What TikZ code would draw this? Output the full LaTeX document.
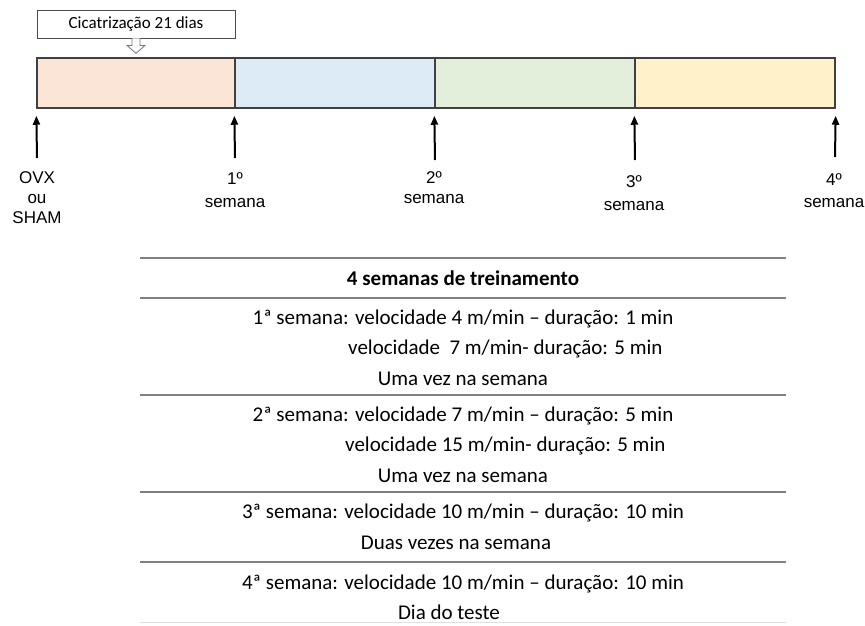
\documentclass[tikz,border=0pt]{standalone}
\usepackage{fontspec}
\setmainfont{Carlito}
\newfontfamily\arialfont{Liberation Sans}
\usetikzlibrary{arrows.meta,positioning}

\definecolor{fasepeach}{HTML}{FBE5D6}
\definecolor{faseblue}{HTML}{DDEBF6}
\definecolor{fasegreen}{HTML}{E3EFDA}
\definecolor{faseyellow}{HTML}{FFF1C9}

\begin{document}
\begin{tikzpicture}[x=1pt, y=-1pt,
  fase/.style={draw=black!75, line width=1.5pt, fill=#1,
               minimum width=200pt, minimum height=50pt, inner sep=0pt},
  marco/.style={-{Triangle[length=9pt,width=7pt]}, line width=2pt, shorten >=7pt},
  rotulo/.style={font=\arialfont\fontsize{17}{#1}\selectfont, align=center, inner sep=0pt},
  linha/.style={font=\fontsize{21}{25}\selectfont, inner sep=0pt, anchor=base},
  regra/.style={draw=black!50, line width=1.6pt}
]
\useasboundingbox (0,0) rectangle (865,625);

%% Cicatrization box and hollow arrow
\node[draw=black!70, line width=0.8pt, minimum width=198pt, minimum height=28pt,
      inner sep=0pt, font=\fontsize{17}{20}\selectfont] (cic) at (136,24) {Cicatrização 21 dias};
\draw[draw=black!55, fill=white, line width=0.8pt]
  ([xshift=-4pt]cic.south) -- ++(0,7) -- ++(-5,0) -- ++(9,8) -- ++(9,-8)
  -- ++(-5,0) -- ++(0,-7);

%% Timeline phases
\node[fase=fasepeach, minimum width=198pt] (f1) at (136,83) {};
\node[fase=faseblue]   (f2) at (335,83) {};
\node[fase=fasegreen]  (f3) at (535,83) {};
\node[fase=faseyellow] (f4) at (735,83) {};

%% Week labels
\node[rotulo=20] (ovx) at (37,198) {OVX\\ou\\SHAM};
\node[rotulo=23] (s1) at (235,190) {1º\\semana};
\node[rotulo=20] (s2) at (434,188) {2º\\semana};
\node[rotulo=23] (s3) at (634,193) {3º\\semana};
\node[rotulo=22] (s4) at (834,191) {4º\\semana};

%% Arrows
\coordinate (m0) at (37,158);
\coordinate (m1) at (235,158);
\coordinate (m2) at (435,160);
\coordinate (m3) at (635,160);
\coordinate (m4) at (835,157);
\draw[marco] (m0) -- (f1.south west);
\draw[marco] (m1) -- (f2.south west);
\draw[marco] (m2) -- (f3.south west);
\draw[marco] (m3) -- (f4.south west);
\draw[marco] (m4) -- (f4.south east);

%% Training table
\foreach \yy in {258,298,395,492,562}
  \draw[regra] (140,\yy) -- (786,\yy);
\draw[draw=black!12, line width=1pt] (140,622) -- (786,622);

\node[linha, font=\bfseries\fontsize{21}{25}\selectfont] (cab) at (463,285) {4 semanas de treinamento};
\node[linha] (l11) at (463,324) {1ª semana: velocidade 4 m/min – duração: 1 min};
\node[linha, anchor=base west] (l12) at (348,354) {velocidade \ 7 m/min- duração: 5 min};
\node[linha] (l13) at (463,385) {Uma vez na semana};
\node[linha] (l21) at (463,421) {2ª semana: velocidade 7 m/min – duração: 5 min};
\node[linha, anchor=base west] (l22) at (345,451) {velocidade 15 m/min- duração: 5 min};
\node[linha] (l23) at (463,482) {Uma vez na semana};
\node[linha] (l31) at (463,518) {3ª semana: velocidade 10 m/min – duração: 10 min};
\node[linha] (l32) at (456,549) {Duas vezes na semana};
\node[linha] (l41) at (463,589) {4ª semana: velocidade 10 m/min – duração: 10 min};
\node[linha] (l42) at (449,619) {Dia do teste};

\end{tikzpicture}
\end{document}
